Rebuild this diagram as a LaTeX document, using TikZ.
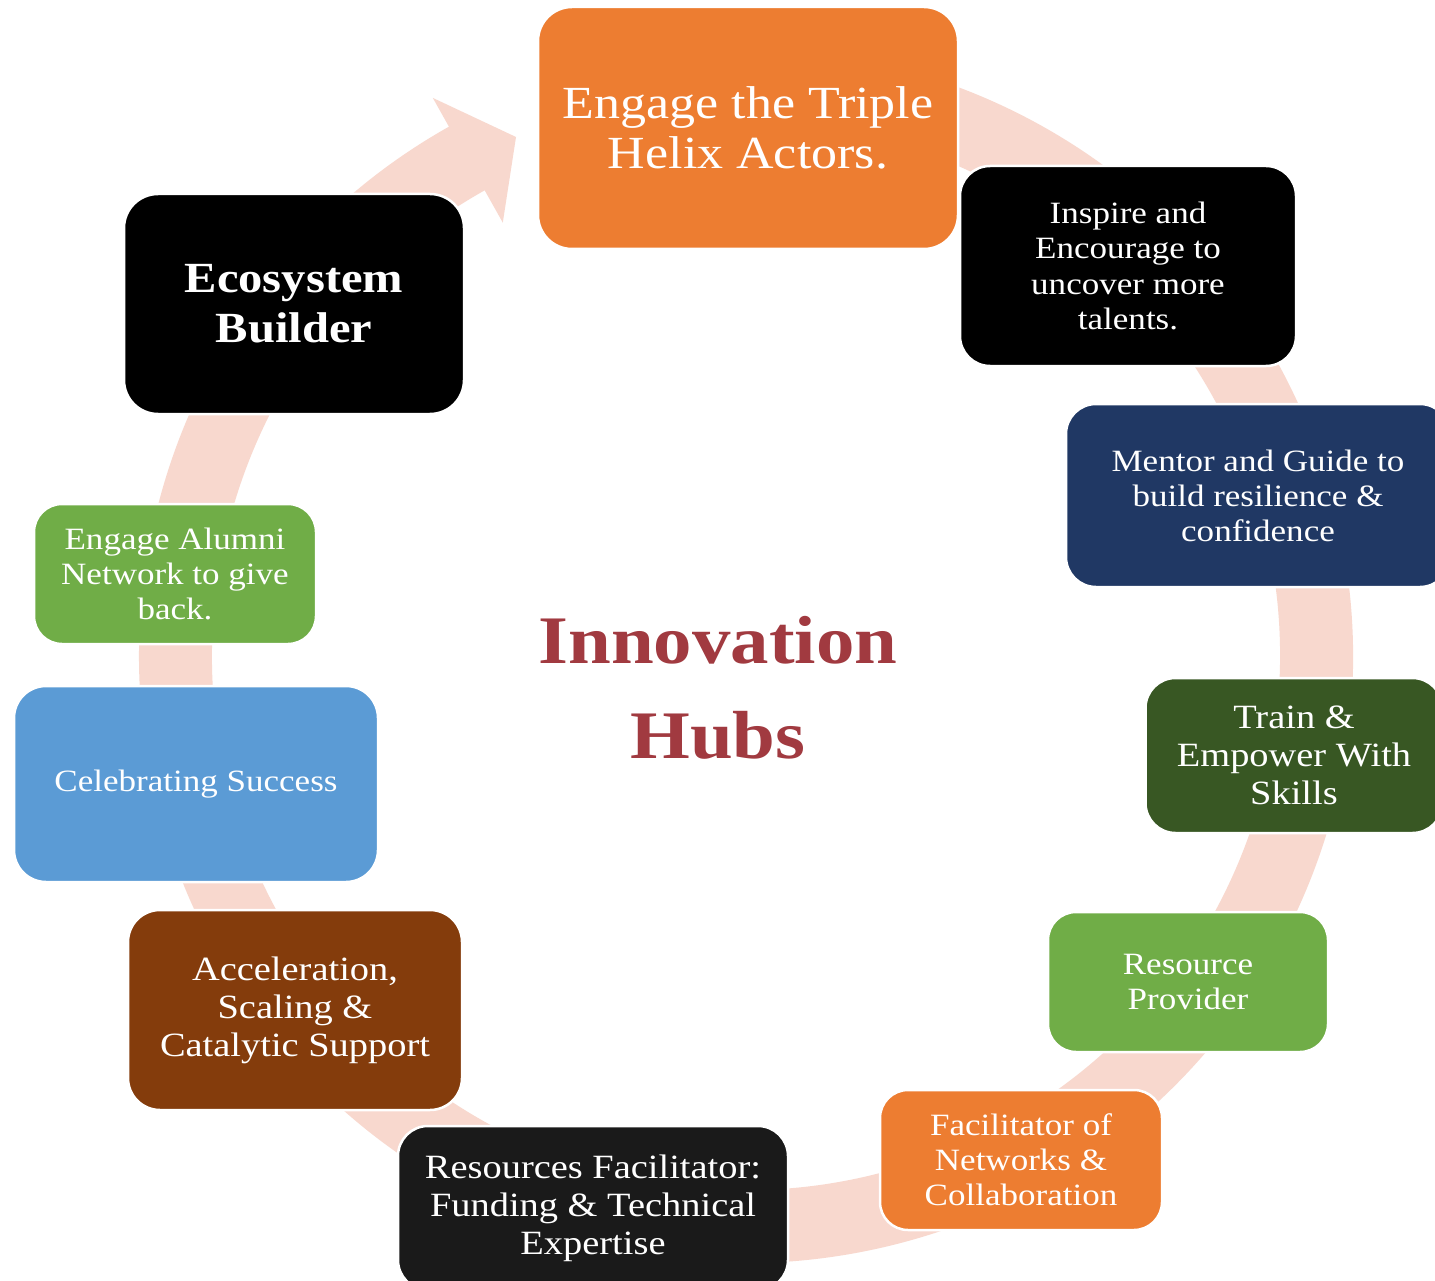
\documentclass[tikz,border=0pt]{standalone}
\usepackage{fontspec}
\setmainfont{Liberation Serif}[FakeStretch=1.13]
\definecolor{band}{HTML}{F8D8CE}
\definecolor{orng}{HTML}{ED7D31}
\definecolor{navy}{HTML}{203864}
\definecolor{dgreen}{HTML}{385723}
\definecolor{lgreen}{HTML}{70AD47}
\definecolor{nblack}{HTML}{1A1A1A}
\definecolor{brown}{HTML}{843C0C}
\definecolor{sky}{HTML}{5B9BD5}
\definecolor{title}{HTML}{A13A40}
\tikzset{
  box/.style={draw=white, line width=2.5pt, rounded corners=34pt, text=white, align=center, inner sep=0pt},
  fs/.style n args={2}{font=\fontsize{#1}{#2}\selectfont}
}
\begin{document}
\begin{tikzpicture}[x=1pt,y=1pt]
\useasboundingbox (0,0) rectangle (1435,-1281);
\clip (0,0) rectangle (1435,-1281);
\fill[white] (0,0) rectangle (1435,-1281);
% circular band
\coordinate (C) at (746,-656);
\fill[band] ([shift={(100:607)}]C) arc[start angle=100, end angle=-240.7, radius=607]
  -- ([shift={(119.3:640)}]C) -- (516,-137) -- ([shift={(119.3:497)}]C)
  -- ([shift={(119.3:534)}]C) arc[start angle=-240.7, end angle=100, radius=534] -- cycle;
% boxes
\node[box, fill=orng, minimum width=420pt, minimum height=242pt, fs={46}{50}] (top) at (748,-128) {Engage the Triple\\Helix Actors.};
\node[box, fill=black, minimum width=336pt, minimum height=200pt, rounded corners=30pt, fs={31}{35.5}] (insp) at (1128,-266) {Inspire and\\Encourage to\\uncover more\\talents.};
\node[box, fill=navy, minimum width=384pt, minimum height=183pt, rounded corners=30pt, fs={31}{35}] (ment) at (1258,-495.5) {Mentor and Guide to\\build resilience \&\\confidence};
\node[box, fill=dgreen, minimum width=297pt, minimum height=155pt, rounded corners=30pt, fs={34}{38}] (train) at (1294,-755.5) {Train \&\\Empower With\\Skills};
\node[box, fill=lgreen, minimum width=280pt, minimum height=140pt, rounded corners=28pt, fs={31}{35}] (res) at (1188,-982) {Resource\\Provider};
\node[box, fill=orng, minimum width=282pt, minimum height=140pt, rounded corners=28pt, fs={31}{35}] (fac) at (1021,-1160) {Facilitator of\\Networks \&\\Collaboration};
\node[box, fill=nblack, minimum width=390pt, minimum height=164pt, rounded corners=30pt, fs={34}{38}] (fund) at (593,-1208) {Resources Facilitator:\\Funding \& Technical\\Expertise};
\node[box, fill=brown, minimum width=334pt, minimum height=200pt, rounded corners=32pt, fs={34}{38}] (acc) at (295,-1010) {Acceleration,\\Scaling \&\\Catalytic Support};
\node[box, fill=sky, minimum width=364pt, minimum height=196pt, rounded corners=32pt, fs={31}{35}] (cel) at (196,-784) {Celebrating Success};
\node[box, fill=lgreen, minimum width=282pt, minimum height=140pt, rounded corners=28pt, fs={31}{35}] (alum) at (175,-574) {Engage Alumni\\Network to give\\back.};
\node[box, fill=black, minimum width=340pt, minimum height=220pt, rounded corners=34pt, font=\bfseries\fontsize{43}{50}\selectfont] (eco) at (294,-304) {Ecosystem\\Builder};
% centre title
\node[align=center, text=title, font=\bfseries\fontsize{68}{95}\selectfont] (hub) at (718,-688) {Innovation\\Hubs};
\end{tikzpicture}
\end{document}
